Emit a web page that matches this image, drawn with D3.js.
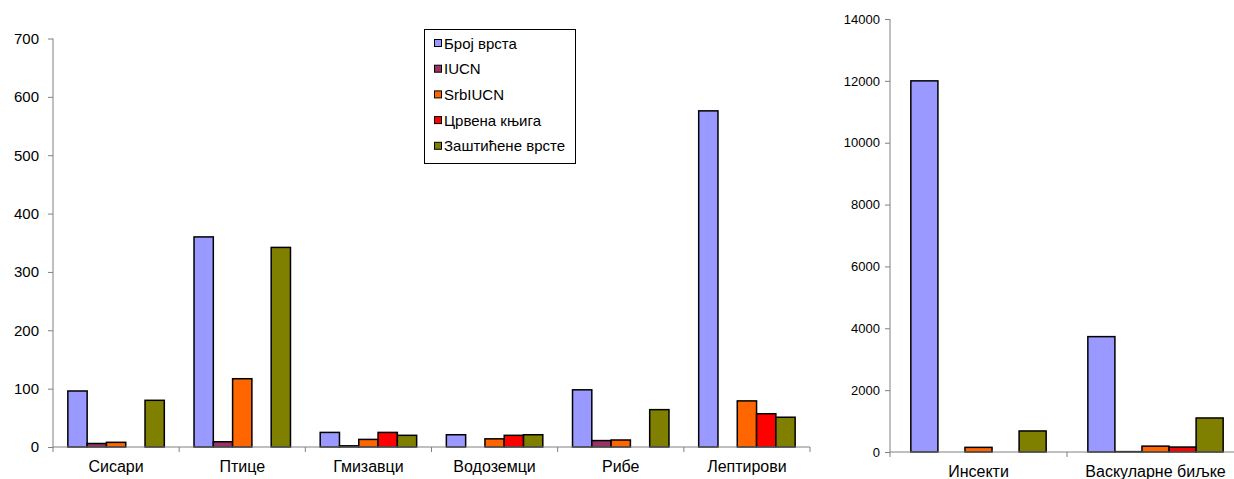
<!DOCTYPE html>
<html><head><meta charset="utf-8">
<script src="https://cdn.jsdelivr.net/npm/d3@7"></script>
<style>body{margin:0;background:#fff}svg{display:block}text{font-family:"Liberation Sans",Arial,sans-serif;fill:#000}</style>
</head><body>
<svg id="c" width="1234" height="479"></svg>
<script>
const series = ["Број врста","IUCN","SrbIUCN","Црвена књига","Заштићене врсте"];
const colors = ["#9999FF","#993366","#FF6600","#FF0000","#808000"];
const catsLeft = ["Сисари","Птице","Гмизавци","Водоземци","Рибе","Лептирови"];
const brojLeft = [96,360,25,21,98,576];
const iucnLeft = [6,9,2,0,11,0];
const srbLeft = [8,117,13,14,12,79];
const crvenaLeft = [0,0,25,20,0,57];
const zasLeft = [80,342,20,21,64,51];
const ticksLeft = [0,100,200,300,400,500,600,700];
const catsRight = ["Инсекти","Васкуларне биљке"];
const brojRight = [12000,3730];
const iucnRight = [0,12];
const srbRight = [150,190];
const crvenaRight = [0,160];
const zasRight = [680,1100];
const ticksRight = [0,2000,4000,6000,8000,10000,12000,14000];

const svg = d3.select("#c");
const FONT = "Liberation Sans, Arial, sans-serif";

function panel(cats, vals, ticks, x0, x1, yTop, yBot, opt) {
  const g = svg.append("g");
  const x = d3.scaleBand().domain(cats).range([x0, x1]).paddingInner(0).paddingOuter(0);
  const inner = d3.scaleBand().domain(d3.range(series.length)).range([0, x.bandwidth()]).paddingInner(0).paddingOuter(0.77);
  const y = d3.scaleLinear().domain([0, d3.max(ticks)]).range([yBot, yTop]);
  const axisColor = "#808080";
  const ya = g.append("g").attr("transform", `translate(${x0},0)`)
    .call(d3.axisLeft(y).tickValues(ticks).tickSize(5).tickPadding(opt.tickPad).tickFormat(d3.format("d")));
  ya.select(".domain").attr("stroke", axisColor).attr("d", `M0,${yTop}V${yBot}`);
  ya.selectAll(".tick line").attr("stroke", axisColor);
  ya.selectAll(".tick text").attr("font-size", opt.tickFont).attr("font-family", FONT);
  cats.forEach((c, i) => {
    vals.forEach((arr, s) => {
      const v = arr[i];
      g.append("rect")
        .attr("x", x(c) + inner(s))
        .attr("y", y(v))
        .attr("width", inner.bandwidth())
        .attr("height", yBot - y(v))
        .attr("fill", colors[s])
        .attr("stroke", "#000").attr("stroke-width", 1.5);
    });
  });
  const xa = g.append("g").attr("transform", `translate(0,${yBot})`)
    .call(d3.axisBottom(x).tickSize(0).tickPadding(0));
  xa.select(".domain").attr("stroke", axisColor).attr("d", `M${x0},0H${x1}`);
  xa.selectAll(".tick text").attr("font-size", opt.catFont).attr("font-family", FONT)
    .attr("dy", null).attr("y", opt.catBase);
  const bounds = d3.range(cats.length + 1).map(i => x0 + i * x.step());
  g.selectAll(".bt").data(bounds).enter().append("line")
    .attr("x1", d => d).attr("x2", d => d).attr("y1", yBot).attr("y2", yBot + 5)
    .attr("stroke", axisColor);
}

panel(catsLeft, [brojLeft, iucnLeft, srbLeft, crvenaLeft, zasLeft], ticksLeft, 53, 810, 38.5, 447,
  {tickFont: 15, tickPad: 9, catFont: 16, catBase: 25});
panel(catsRight, [brojRight, iucnRight, srbRight, crvenaRight, zasRight], ticksRight, 890, 1244, 19, 452,
  {tickFont: 13, tickPad: 5, catFont: 16, catBase: 25});

const lg = svg.append("g");
lg.append("rect").attr("x", 424.5).attr("y", 29.5).attr("width", 151).attr("height", 134)
  .attr("fill", "#fff").attr("stroke", "#000");
series.forEach((s, i) => {
  const cy = 43 + i * 25.7;
  lg.append("rect").attr("x", 434.5).attr("y", cy - 3.5).attr("width", 7).attr("height", 7)
    .attr("fill", colors[i]).attr("stroke", "#000");
  lg.append("text").attr("x", 444).attr("y", cy + 5.5).attr("font-size", 15).attr("font-family", FONT).text(s);
});
</script>
</body></html>
